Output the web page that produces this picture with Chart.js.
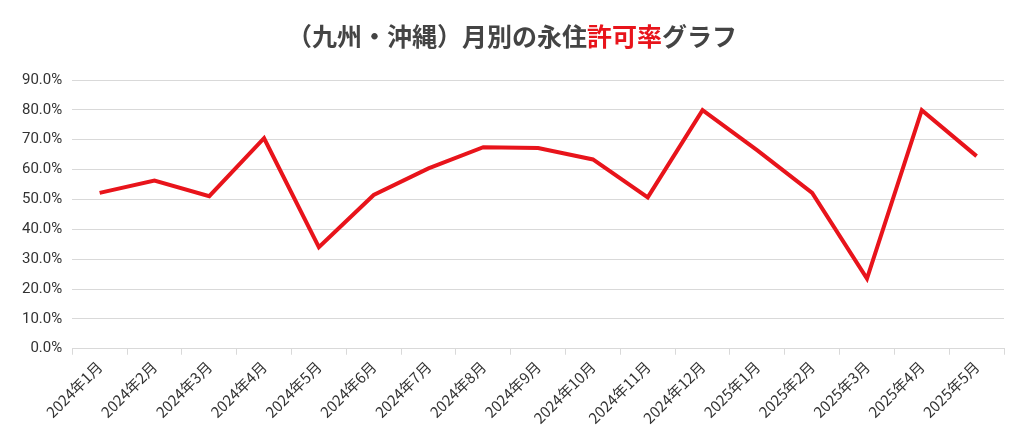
<html>
<head>
<script src="https://cdn.jsdelivr.net/npm/chart.js"></script>
<style>
body { margin: 0; background: #fff; }
#wrap { width: 1024px; height: 440px; position: relative; }
</style>
</head>
<body>
<div id="wrap"><canvas id="rate"></canvas></div>
<script>
const labels = ["2024年1月","2024年2月","2024年3月","2024年4月","2024年5月","2024年6月","2024年7月","2024年8月","2024年9月","2024年10月","2024年11月","2024年12月","2025年1月","2025年2月","2025年3月","2025年4月","2025年5月"];
const rates = [52.2, 56.3, 51.1, 70.5, 34.0, 51.5, 60.4, 67.5, 67.2, 63.4, 50.7, 79.9, 66.4, 52.2, 23.5, 79.9, 64.5];
const titleParts = [["（九州・沖縄）月別の永住", "#444"], ["許可率", "#e8141b"], ["グラフ", "#444"]];

// title in two colours, drawn by hand
const titlePlugin = {
    id: 'twoColourTitle',
    afterDraw(chart) {
        const c = chart.ctx;
        c.save();
        c.font = 'bold 25px "Noto Sans CJK JP"';
        c.textBaseline = 'middle';
        let total = 0;
        titleParts.forEach(p => total += c.measureText(p[0]).width);
        let x = chart.width / 2 - total / 2;
        titleParts.forEach(p => {
            c.fillStyle = p[1];
            c.fillText(p[0], x, 36);
            x += c.measureText(p[0]).width;
        });
        c.restore();
    }
};

new Chart(document.getElementById('rate'), {
    type: 'line',
    data: {
        labels: labels,
        datasets: [{
            data: rates,
            borderColor: '#e8141b',
            borderWidth: 4,
            pointRadius: 0,
            tension: 0
        }]
    },
    options: {
        responsive: true,
        maintainAspectRatio: false,
        animation: false,
        layout: { padding: { top: 80, right: 20, left: 12, bottom: 10 } },
        plugins: { legend: { display: false }, tooltip: { enabled: false } },
        scales: {
            y: {
                min: 0, max: 90,
                ticks: { stepSize: 10, padding: 10, color: '#333', font: { size: 15, family: 'Roboto' }, callback: v => v.toFixed(1) + '%' },
                grid: { color: '#d9d9d9', drawTicks: false },
                border: { display: false }
            },
            x: {
                offset: true,
                ticks: { maxRotation: 45, minRotation: 45, color: '#333', font: { size: 15, family: '"Noto Sans CJK JP"' } },
                grid: { offset: true, drawOnChartArea: false, color: '#d9d9d9', tickLength: 6 },
                border: { color: '#d9d9d9' }
            }
        }
    },
    plugins: [titlePlugin]
});
</script>
</body>
</html>
